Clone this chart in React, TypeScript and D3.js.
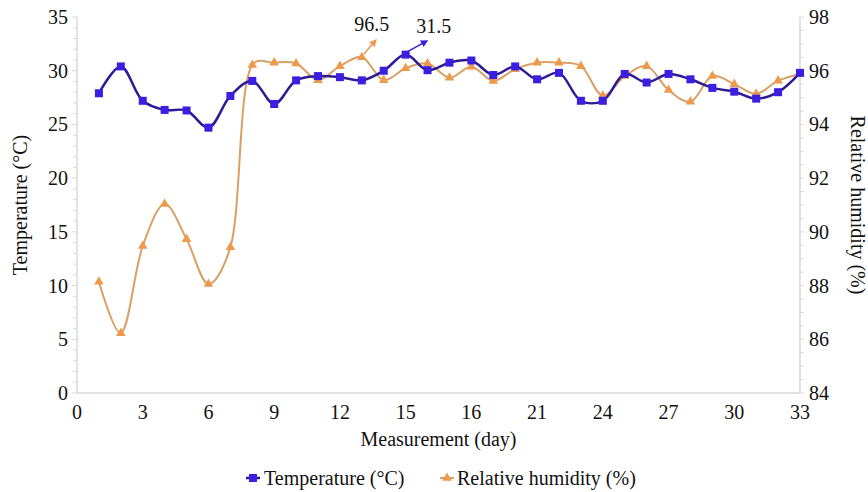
import React from "react";
import * as d3 from "d3";

const days = d3.range(1, 34);
const temperature = [27.9, 30.4, 27.2, 26.35, 26.3, 24.7, 27.65, 29.05, 26.9, 29.1, 29.5, 29.4, 29.1, 30.0, 31.5, 30.05, 30.75, 30.95, 29.6, 30.4, 29.2, 29.8, 27.2, 27.2, 29.7, 28.9, 29.7, 29.2, 28.4, 28.05, 27.4, 28.0, 29.8];
const humidity = [88.14, 86.23, 89.47, 91.04, 89.73, 88.06, 89.43, 96.21, 96.3, 96.27, 95.65, 96.17, 96.5, 95.65, 96.09, 96.27, 95.74, 96.15, 95.62, 96.06, 96.3, 96.3, 96.17, 95.07, 95.8, 96.17, 95.28, 94.85, 95.8, 95.5, 95.14, 95.63, 95.88];
const xTickValues = [0, 3, 6, 9, 12, 15, 18, 21, 24, 27, 30, 33];
const xTickLabels = ["0", "3", "6", "9", "12", "15", "16", "21", "24", "27", "30", "33"];
const leftTicks = [0, 5, 10, 15, 20, 25, 30, 35];
const rightTicks = [84, 86, 88, 90, 92, 94, 96, 98];
const annotations = [
  { series: "humidity", day: 13, label: "96.5" },
  { series: "temperature", day: 15, label: "31.5" },
];

const W = 868, H = 492;
const L = 77, R = 800, T = 17, B = 393;
const FONT = "'Liberation Serif', 'Times New Roman', serif";
const tLine = "#2E1A96", tMark = "#3B1FE0";
const hLine = "#D9A066", hMark = "#EE9A4D";

export default function App() {
  const x = d3.scaleLinear().domain([0, 33]).range([L, R]);
  const yL = d3.scaleLinear().domain([0, 35]).range([B, T]);
  const yR = d3.scaleLinear().domain([84, 98]).range([B, T]);
  const tPath = d3.line<number>().x((_, i) => x(days[i])).y((d) => yL(d)).curve(d3.curveCatmullRom.alpha(0.5))(temperature) || "";
  const hPath = d3.line<number>().x((_, i) => x(days[i])).y((d) => yR(d)).curve(d3.curveCatmullRom.alpha(0.4))(humidity) || "";
  const leftMinor = d3.range(0, 35.01, 1);
  const rightMinor = d3.range(84, 98.01, 0.5);
  const tri = d3.symbol().type(d3.symbolTriangle).size(40)() || "";

  return (
    <svg width={W} height={H} style={{ position: "absolute", left: 0, top: 0, background: "#fff" }} fontFamily={FONT}>
      <defs>
        <marker id="arrO" viewBox="0 0 10 10" refX="6" refY="5" markerWidth="5" markerHeight="5" orient="auto">
          <path d="M0,0 L10,5 L0,10 z" fill={hMark} />
        </marker>
        <marker id="arrB" viewBox="0 0 10 10" refX="6" refY="5" markerWidth="5" markerHeight="5" orient="auto">
          <path d="M0,0 L10,5 L0,10 z" fill={tMark} />
        </marker>
      </defs>
      {/* axes */}
      <line x1={L} x2={L} y1={T} y2={B} stroke="#d9d9d9" strokeWidth={1.5} />
      <line x1={R} x2={R} y1={T} y2={B} stroke="#d9d9d9" strokeWidth={1.5} />
      <line x1={L} x2={R} y1={B} y2={B} stroke="#d9d9d9" strokeWidth={1.5} />
      {leftMinor.map((v) => (
        <line key={"lm" + v} x1={L - (v % 5 === 0 ? 5 : 4)} x2={L} y1={yL(v)} y2={yL(v)} stroke="#d9d9d9" />
      ))}
      {rightMinor.map((v) => (
        <line key={"rm" + v} x1={R} x2={R + 4} y1={yR(v)} y2={yR(v)} stroke="#d9d9d9" />
      ))}
      {leftTicks.map((v) => (
        <text key={"lt" + v} x={L - 9} y={yL(v)} dy="0.35em" textAnchor="end" fontSize={20} fill="#111">{v}</text>
      ))}
      {rightTicks.map((v) => (
        <text key={"rt" + v} x={R + 9} y={yR(v)} dy="0.35em" textAnchor="start" fontSize={20} fill="#111">{v}</text>
      ))}
      {xTickValues.map((v, i) => (
        <text key={"xt" + v} x={x(v)} y={B + 19} dy="0.35em" textAnchor="middle" fontSize={20} fill="#111">{xTickLabels[i]}</text>
      ))}
      <text x={(L + R) / 2} y={446} textAnchor="middle" fontSize={20} fill="#111">Measurement (day)</text>
      <text transform={`translate(27,${(T + B) / 2}) rotate(-90)`} textAnchor="middle" fontSize={20} fill="#111">Temperature (°C)</text>
      <text transform={`translate(851,${(T + B) / 2}) rotate(90)`} textAnchor="middle" fontSize={20} fill="#111">Relative humidity (%)</text>

      {/* humidity */}
      <path d={hPath} fill="none" stroke={hLine} strokeWidth={2} />
      {humidity.map((v, i) => (
        <path key={"h" + i} d={tri} transform={`translate(${x(days[i])},${yR(v)})`} fill={hMark} />
      ))}
      {/* temperature */}
      <path d={tPath} fill="none" stroke={tLine} strokeWidth={2.5} />
      {temperature.map((v, i) => (
        <rect key={"t" + i} x={x(days[i]) - 4} y={yL(v) - 4} width={8} height={8} fill={tMark} />
      ))}

      {/* annotations */}
      {annotations.map((a) => {
        const px = x(a.day);
        const py = a.series === "humidity" ? yR(humidity[a.day - 1]) : yL(temperature[a.day - 1]);
        const isH = a.series === "humidity";
        const dx = isH ? 13 : 20;
        const dy = isH ? -16 : -13;
        return (
          <g key={a.label}>
            <line x1={px + 2} y1={py - 3} x2={px + dx} y2={py + dy} stroke={isH ? hMark : tMark} strokeWidth={1.5} markerEnd={`url(#${isH ? "arrO" : "arrB"})`} />
            <text x={isH ? px + 10 : px + 28} y={isH ? 31 : 33} textAnchor="middle" fontSize={20} fill="#111">{a.label}</text>
          </g>
        );
      })}

      {/* legend */}
      <g transform="translate(246,478)">
        <line x1={0} x2={14} y1={0} y2={0} stroke={tLine} strokeWidth={2.5} />
        <rect x={3} y={-4} width={8} height={8} fill={tMark} />
        <text x={18} y={0} dy="0.35em" fontSize={20} fill="#111">Temperature (°C)</text>
        <line x1={194} x2={208} y1={0} y2={0} stroke={hLine} strokeWidth={2} />
        <path d={tri} transform="translate(201,0)" fill={hMark} />
        <text x={211} y={0} dy="0.35em" fontSize={20} fill="#111">Relative humidity (%)</text>
      </g>
    </svg>
  );
}
